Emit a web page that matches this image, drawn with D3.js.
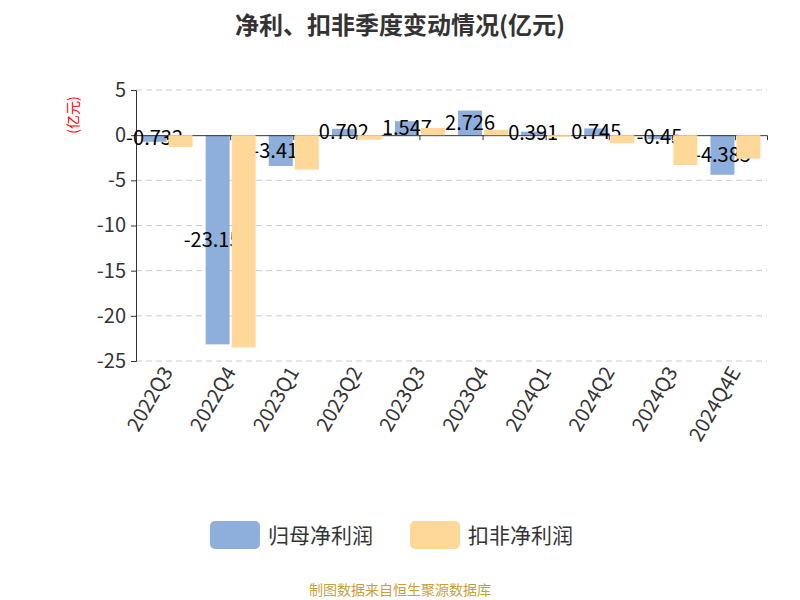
<!DOCTYPE html><html><head><meta charset="utf-8"><script src="https://cdn.jsdelivr.net/npm/d3@7"></script>
<style>body{margin:0;background:#fff}text{font-family:"Noto Sans CJK SC","Noto Sans",sans-serif}</style></head><body>
<svg id="c" width="800" height="600"></svg>
<script>
const categories=["2022Q3","2022Q4","2023Q1","2023Q2","2023Q3","2023Q4","2024Q1","2024Q2","2024Q3","2024Q4E"];
const netProfit=[-0.732,-23.158,-3.413,0.702,1.547,2.726,0.391,0.745,-0.45,-4.385];
const deductedProfit=[-1.3,-23.5,-3.8,-0.5,0.8,0.6,-0.2,-0.9,-3.3,-2.6];
const yTicks=[5,0,-5,-10,-15,-20,-25];
const seriesNames=["归母净利润","扣非净利润"];
const colors=["#8eaedb","#fed899"];
const svg=d3.select("#c");
const x=d3.scaleBand().domain(categories).range([136,767]);
const y=d3.scaleLinear().domain([-25,5]).range([361,90]);
svg.append("text").attr("x",400).attr("y",34).attr("text-anchor","middle").attr("font-size",24).attr("font-weight","bold").attr("fill","#333").text("净利、扣非季度变动情况(亿元)");
svg.append("text").attr("transform","translate(78,115) rotate(-90)").attr("text-anchor","middle").attr("font-size",14).attr("fill","red").text("(亿元)");
yTicks.forEach(t=>{if(t!==0)svg.append("line").attr("x1",136).attr("x2",767).attr("y1",y(t)).attr("y2",y(t)).attr("stroke","#ccc").attr("stroke-dasharray","6,4");});
const ya=svg.append("g").attr("transform","translate(136,0)").call(d3.axisLeft(y).tickValues(yTicks).tickSize(5).tickFormat(d=>String(d)));
ya.selectAll("text").attr("font-size",20).attr("fill","#333").attr("dx",-2);
ya.selectAll("line,path").attr("stroke","#333");
const bw=24;
categories.forEach((c,i)=>{
 const x0=x(c)+x.bandwidth()/2, v=netProfit[i];
 svg.append("rect").attr("x",x0-bw-1).attr("width",bw).attr("y",Math.min(y(v),y(0))).attr("height",Math.abs(y(v)-y(0))).attr("fill",colors[0]);
});
const xa=svg.append("g").attr("transform","translate(0,"+y(0)+")").call(d3.axisBottom(x).tickSize(5).tickFormat(""));
xa.selectAll("line,path").attr("stroke","#333");
categories.forEach((c,i)=>{
 svg.append("text").attr("transform",`translate(${x(c)+x.bandwidth()/2+6},372) rotate(-60)`).attr("text-anchor","end").attr("font-size",20).attr("fill","#333").text(c);
});
categories.forEach((c,i)=>{
 const v=netProfit[i];
 svg.append("text").attr("x",x(c)+x.bandwidth()/2-bw/2-1).attr("y",(y(v)+y(0))/2).attr("dy","0.35em").attr("text-anchor","middle").attr("font-size",20).attr("fill","#000").text(v);
});
categories.forEach((c,i)=>{const v=deductedProfit[i];const x0=x(c)+x.bandwidth()/2;
 svg.append("rect").attr("x",x0+1).attr("width",bw).attr("y",Math.min(y(v),y(0))).attr("height",Math.abs(y(v)-y(0))).attr("fill",colors[1]);});
seriesNames.forEach((n,k)=>{const lx=[210,410][k];
 svg.append("rect").attr("x",lx).attr("y",521).attr("width",50).attr("height",28).attr("rx",5).attr("fill",colors[k]);
 svg.append("text").attr("x",lx+58).attr("y",543).attr("font-size",21).attr("fill","#333").text(n);});
svg.append("text").attr("x",400).attr("y",595).attr("text-anchor","middle").attr("font-size",14).attr("fill","#c8a040").text("制图数据来自恒生聚源数据库");
</script></body></html>
